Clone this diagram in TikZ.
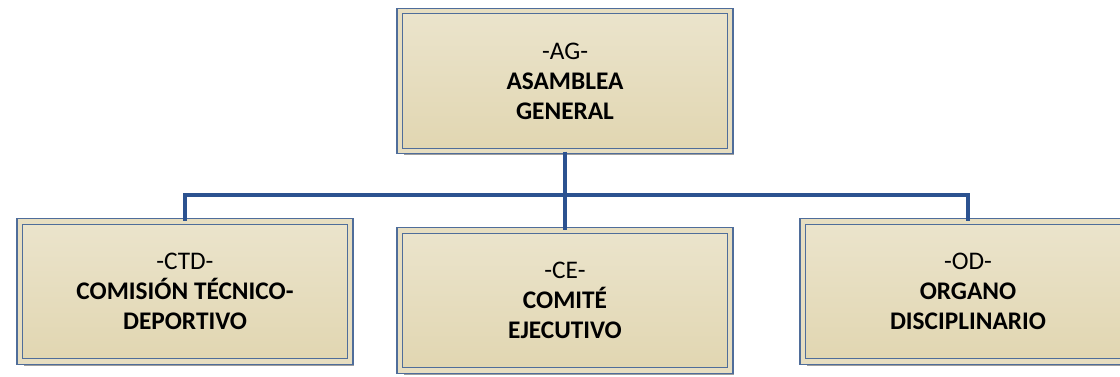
\documentclass[tikz,border=0pt]{standalone}
\usepackage{fontspec}
\setmainfont{Carlito}
\usetikzlibrary{shadows}
\definecolor{boxtop}{HTML}{EBE4CC}
\definecolor{boxbot}{HTML}{E1D6B1}
\definecolor{boxline}{HTML}{4F6D9A}
\definecolor{busline}{HTML}{2C5290}
\tikzset{
    orgbox/.style={rectangle, draw=boxline, line width=0.8pt, double=boxtop!60!boxbot,
        double distance=3.2pt, top color=boxtop, bottom color=boxbot,
        minimum width=248pt, minimum height=105pt, inner sep=0pt, align=center,
        font=\fontsize{19}{22.5}\selectfont,
        drop shadow={shadow xshift=3pt, shadow yshift=-3pt, fill=black!38, opacity=1}},
    bus/.style={draw=busline, line width=2.3pt}
}
\begin{document}
\begin{tikzpicture}[x=0.75pt, y=-0.75pt]
    \useasboundingbox (0,0) rectangle (1120,376);
        \node[orgbox] (ag) at (565,81) {-AG-\\\textbf{ASAMBLEA}\\\textbf{GENERAL}};
        \node[orgbox] (ctd) at (185,291.5) {-CTD-\\\textbf{COMISIÓN TÉCNICO-}\\\textbf{DEPORTIVO}};
        \node[orgbox] (od) at (968,291.5) {-OD-\\\textbf{ORGANO}\\\textbf{DISCIPLINARIO}};
        \coordinate (bus) at (565,195);
        \draw 
            [bus] (ag.south)--(bus);
        \draw 
            [bus] (ctd.north) |- (bus) -| (od.north);
        \node[orgbox] (ce) at (565,300.5) {-CE-\\\textbf{COMITÉ}\\\textbf{EJECUTIVO}};
        \draw 
            [bus] (bus)--(ce.north);
    \end{tikzpicture}
\end{document}
